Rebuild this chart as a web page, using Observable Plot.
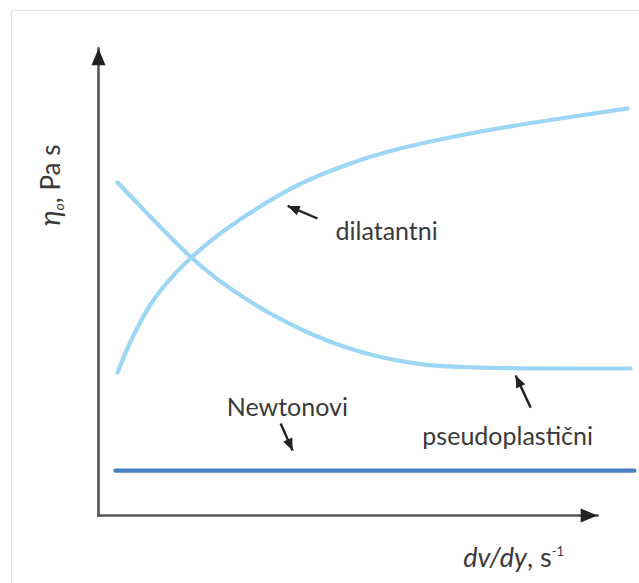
<!DOCTYPE html>
<html><head><meta charset="utf-8">
<script src="https://cdn.jsdelivr.net/npm/d3@7"></script>
<script src="https://cdn.jsdelivr.net/npm/@observablehq/plot@0.6"></script>
<style>
html,body{margin:0;padding:0;background:#fff;}
#wrap{position:relative;width:639px;height:583px;overflow:hidden;background:#fff;}
#frame{position:absolute;left:11px;top:10px;width:700px;height:700px;border:1.5px solid #e4e4e4;}
#chart{position:absolute;left:0;top:0;}
</style></head><body>
<div id="wrap"><div id="frame"></div><div id="chart"></div></div>
<script>
// Shear rate (x) and viscosity (y) in arbitrary units
const dilatantX = [3.81, 5.41, 7.41, 10.42, 13.43, 18.44, 23.45, 29.46, 38.48, 46.49, 56.51, 69.94, 83.17, 96.59, 106.01];
const dilatantY = [30.62, 34.90, 39.61, 45.40, 49.68, 55.25, 59.74, 64.24, 70.24, 73.88, 77.73, 80.94, 83.51, 85.65, 87.15];
const pseudoX = [3.81, 8.42, 13.43, 18.44, 23.45, 29.86, 36.47, 43.09, 49.90, 56.51, 63.13, 69.94, 83.17, 96.59, 106.61];
const pseudoY = [71.31, 66.17, 60.60, 55.25, 50.75, 46.04, 41.97, 38.54, 35.76, 33.83, 32.55, 31.80, 31.48, 31.48, 31.48];
const newtonX = [3.4, 107.4];
const newtonY = [9.6, 9.6];

// Curve labels and their pointer arrows
const labels = ["dilatantni", "Newtonovi", "pseudoplastični"];
const labelX = [47.5, 25.7, 64.9];
const labelY = [58.9, 21.4, 15.0];
const pointerTailX = [43.9, 36.5, 86.6];
const pointerTailY = [63.6, 19.7, 23.1];
const pointerTipX = [37.9, 38.9, 83.6];
const pointerTipY = [66.3, 13.9, 30.0];

// Axis arrows (origin to tip) and titles
const axisEndX = [100, 0];
const axisEndY = [0, 100];
const xTitle = "dv/dy, s-1";
const yTitle = "ηo, Pa s";
const xTitleX = 73.1, xTitleY = -11.1;
const yTitleX = -9.4, yTitleY = 70.7;

const xScale = {domain: [0, 100], range: [98, 597]};
const yScale = {domain: [0, 100], range: [515, 48]};
const sx = Plot.scale({x: xScale});
const sy = Plot.scale({y: yScale});
const angleOf = (x1, y1, x2, y2) =>
  Math.atan2(sx.apply(x2) - sx.apply(x1), -(sy.apply(y2) - sy.apply(y1))) * 180 / Math.PI;

const arrowHead = {
  draw(ctx, size) {
    const r = Math.sqrt(size / Math.PI);
    ctx.moveTo(0, 0);
    ctx.lineTo(-r, 2.4 * r);
    ctx.lineTo(r, 2.4 * r);
    ctx.closePath();
  }
};

const dil = dilatantX.map((x, i) => ({x, y: dilatantY[i]}));
const pse = pseudoX.map((x, i) => ({x, y: pseudoY[i]}));
const newt = newtonX.map((x, i) => ({x, y: newtonY[i]}));
const axes = axisEndX.map((x, i) => ({x, y: axisEndY[i]}));
const ptrs = labels.map((l, i) => ({
  x1: pointerTailX[i], y1: pointerTailY[i], x2: pointerTipX[i], y2: pointerTipY[i],
  a: angleOf(pointerTailX[i], pointerTailY[i], pointerTipX[i], pointerTipY[i])
}));
const labs = labels.map((t, i) => ({t, x: labelX[i], y: labelY[i]}));

const font = "Lato, 'Open Sans', sans-serif";

const plot = Plot.plot({
  width: 639,
  height: 583,
  x: {...xScale, axis: null},
  y: {...yScale, axis: null},
  style: {background: "transparent", fontFamily: font, overflow: "visible"},
  marks: [
    Plot.line(pse, {x: "x", y: "y", curve: "basis", stroke: "#9dd6f4", strokeWidth: 4.2}),
    Plot.line(dil, {x: "x", y: "y", curve: "basis", stroke: "#9dd6f4", strokeWidth: 4.2}),
    Plot.line(newt, {x: "x", y: "y", stroke: "#4a7fc2", strokeWidth: 4.2}),
    Plot.link(axes, {x1: 0, y1: 0, x2: "x", y2: "y", stroke: "#555", strokeWidth: 2.6, strokeLinecap: "square"}),
    Plot.dot(axes, {x: "x", y: "y", symbol: arrowHead, r: 7, fill: "#222", stroke: "none",
      rotate: d => angleOf(0, 0, d.x, d.y)}),
    Plot.link(ptrs, {x1: "x1", y1: "y1", x2: "x2", y2: "y2", stroke: "#222", strokeWidth: 2.4}),
    Plot.dot(ptrs, {x: "x2", y: "y2", symbol: arrowHead, r: 5, fill: "#222", stroke: "none", rotate: "a"}),
    Plot.text(labs, {x: "x", y: "y", text: "t", textAnchor: "start", lineAnchor: "bottom",
      fontSize: 25, fill: "#3a3a3a"}),
    Plot.text([xTitle], {x: xTitleX, y: xTitleY, text: d => d, textAnchor: "start", lineAnchor: "bottom",
      fontSize: 27, fill: "#3a3a3a"}),
    Plot.text([yTitle], {x: yTitleX, y: yTitleY, text: d => d, textAnchor: "middle", lineAnchor: "middle",
      rotate: -90, fontSize: 26, fill: "#3a3a3a"})
  ]
});

// rich formatting of the axis titles
plot.querySelectorAll("text").forEach(t => {
  if (t.textContent === xTitle) {
    t.innerHTML = '<tspan x="0" font-style="italic">dv/dy</tspan><tspan>, s</tspan><tspan dy="-11" font-size="13">-1</tspan>';
  } else if (t.textContent === yTitle) {
    t.innerHTML = '<tspan x="0" font-style="italic" font-size="29">η</tspan><tspan font-style="italic" font-size="14" dy="4">o</tspan><tspan dy="-4">, Pa s</tspan>';
  }
});

document.getElementById("chart").appendChild(plot);
</script>
</body></html>
